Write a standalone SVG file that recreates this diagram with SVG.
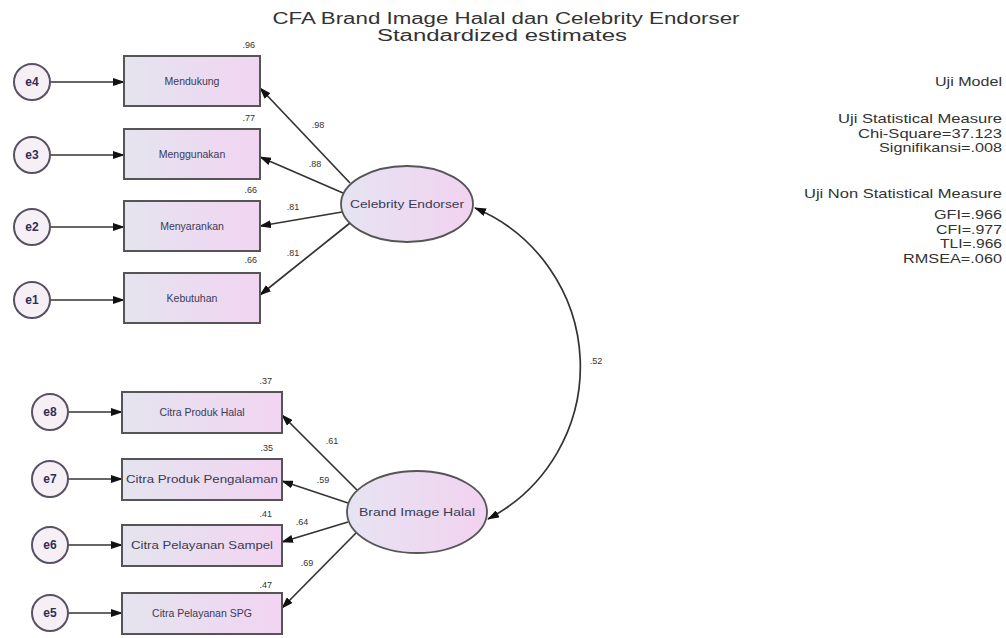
<svg xmlns="http://www.w3.org/2000/svg" width="1006" height="638" viewBox="0 0 1006 638">
<defs>
<linearGradient id="gb" x1="0" y1="0" x2="1" y2="0">
<stop offset="0" stop-color="#e4e4ee"/><stop offset="1" stop-color="#f2d4f2"/>
</linearGradient>
<linearGradient id="ge" x1="0" y1="0" x2="1" y2="0">
<stop offset="0" stop-color="#e6e4f2"/><stop offset="1" stop-color="#f2d2f0"/>
</linearGradient>
<marker id="ah" markerWidth="12" markerHeight="8" refX="11" refY="4" orient="auto-start-reverse" markerUnits="userSpaceOnUse">
<path d="M0,0 L12,4 L0,8 Z" fill="#111"/>
</marker>
<style>
text{font-family:"Liberation Sans",Arial,sans-serif;}
.box{fill:url(#gb);stroke:#555;stroke-width:2;}
.lat{fill:url(#ge);stroke:#555;stroke-width:1.8;}
.err{fill:#f6f0f6;stroke:#5a5064;stroke-width:2;}
.lbl{font-size:10.5px;fill:#3a3a55;text-anchor:middle;}
.elbl{font-size:12px;font-weight:bold;fill:#2e2e55;text-anchor:middle;}
.num{font-size:9px;fill:#333;text-anchor:end;}
.est{font-size:9px;fill:#333;text-anchor:middle;}
.con{stroke:#333;stroke-width:1.7;fill:none;marker-end:url(#ah);}
.info{font-size:13px;fill:#333;text-anchor:end;}
.title{font-size:16px;fill:#333;text-anchor:middle;}
</style>
</defs>
<rect width="1006" height="638" fill="#fff"/>

<g id="title">
<text class="title" x="506" y="24" textLength="467" lengthAdjust="spacingAndGlyphs">CFA Brand Image Halal dan Celebrity Endorser</text>
<text class="title" x="502" y="41" textLength="250" lengthAdjust="spacingAndGlyphs">Standardized estimates</text>
</g>

<g id="fit-stats">
<text class="info" x="1002" y="86" textLength="67" lengthAdjust="spacingAndGlyphs">Uji Model</text>
<text class="info" x="1002" y="123" textLength="164" lengthAdjust="spacingAndGlyphs">Uji Statistical Measure</text>
<text class="info" x="1002" y="138" textLength="144" lengthAdjust="spacingAndGlyphs">Chi-Square=37.123</text>
<text class="info" x="1002" y="152" textLength="123" lengthAdjust="spacingAndGlyphs">Signifikansi=.008</text>
<text class="info" x="1002" y="198" textLength="198" lengthAdjust="spacingAndGlyphs">Uji Non Statistical Measure</text>
<text class="info" x="1002" y="219" textLength="68" lengthAdjust="spacingAndGlyphs">GFI=.966</text>
<text class="info" x="1002" y="234" textLength="66" lengthAdjust="spacingAndGlyphs">CFI=.977</text>
<text class="info" x="1002" y="248" textLength="62" lengthAdjust="spacingAndGlyphs">TLI=.966</text>
<text class="info" x="1002" y="263" textLength="99" lengthAdjust="spacingAndGlyphs">RMSEA=.060</text>
</g>

<g id="connectors">
<line class="con" x1="50" y1="82" x2="124" y2="82"/>
<line class="con" x1="50" y1="155" x2="124" y2="155"/>
<line class="con" x1="50" y1="227" x2="124" y2="227"/>
<line class="con" x1="50" y1="300" x2="124" y2="300"/>
<line class="con" x1="68" y1="412" x2="122" y2="412"/>
<line class="con" x1="68" y1="479" x2="122" y2="479"/>
<line class="con" x1="68" y1="545" x2="122" y2="545"/>
<line class="con" x1="68" y1="613" x2="122" y2="613"/>
<line class="con" x1="350" y1="183" x2="260" y2="88"/>
<line class="con" x1="343" y1="193" x2="260" y2="157"/>
<line class="con" x1="342" y1="212" x2="260" y2="226"/>
<line class="con" x1="350" y1="223" x2="260" y2="295"/>
<line class="con" x1="357" y1="490" x2="282" y2="415"/>
<line class="con" x1="348" y1="503" x2="282" y2="481"/>
<line class="con" x1="348" y1="522" x2="282" y2="542"/>
<line class="con" x1="356" y1="533" x2="282" y2="608"/>
<path class="con" d="M475,208 A172,172 0 0 1 488,519" style="marker-start:url(#ah)"/>
<text class="est" x="318" y="128">.98</text>
<text class="est" x="315" y="167">.88</text>
<text class="est" x="293" y="210">.81</text>
<text class="est" x="293" y="256">.81</text>
<text class="est" x="332" y="444">.61</text>
<text class="est" x="323" y="483">.59</text>
<text class="est" x="302" y="525">.64</text>
<text class="est" x="307" y="566">.69</text>
<text class="est" x="596" y="364">.52</text>
</g>

<g id="e4"><circle class="err" cx="32" cy="82" r="18"/><text class="elbl" x="32" y="86">e4</text></g>
<g id="e3"><circle class="err" cx="32" cy="155" r="18"/><text class="elbl" x="32" y="159">e3</text></g>
<g id="e2"><circle class="err" cx="32" cy="227" r="18"/><text class="elbl" x="32" y="231">e2</text></g>
<g id="e1"><circle class="err" cx="32" cy="300" r="18"/><text class="elbl" x="32" y="304">e1</text></g>
<g id="e8"><circle class="err" cx="50" cy="412" r="18"/><text class="elbl" x="50" y="416">e8</text></g>
<g id="e7"><circle class="err" cx="50" cy="479" r="18"/><text class="elbl" x="50" y="483">e7</text></g>
<g id="e6"><circle class="err" cx="50" cy="545" r="18"/><text class="elbl" x="50" y="549">e6</text></g>
<g id="e5"><circle class="err" cx="50" cy="613" r="18"/><text class="elbl" x="50" y="617">e5</text></g>

<g id="mendukung"><rect class="box" x="124" y="56" width="136" height="50"/><text class="lbl" x="192" y="85">Mendukung</text><text class="num" x="255" y="48">.96</text></g>
<g id="menggunakan"><rect class="box" x="124" y="129" width="136" height="50"/><text class="lbl" x="192" y="158">Menggunakan</text><text class="num" x="255" y="121">.77</text></g>
<g id="menyarankan"><rect class="box" x="124" y="201" width="136" height="50"/><text class="lbl" x="192" y="230">Menyarankan</text><text class="num" x="257" y="193">.66</text></g>
<g id="kebutuhan"><rect class="box" x="124" y="273" width="136" height="50"/><text class="lbl" x="192" y="302">Kebutuhan</text><text class="num" x="257" y="263">.66</text></g>

<g id="citra-produk-halal"><rect class="box" x="122" y="392" width="160" height="41"/><text class="lbl" x="202" y="416">Citra Produk Halal</text><text class="num" x="272" y="384">.37</text></g>
<g id="citra-produk-pengalaman"><rect class="box" x="122" y="459" width="160" height="41"/><text class="lbl" x="202" y="483" textLength="152" lengthAdjust="spacingAndGlyphs">Citra Produk Pengalaman</text><text class="num" x="273" y="451">.35</text></g>
<g id="citra-pelayanan-sampel"><rect class="box" x="122" y="525" width="160" height="41"/><text class="lbl" x="202" y="549" textLength="142" lengthAdjust="spacingAndGlyphs">Citra Pelayanan Sampel</text><text class="num" x="272" y="517">.41</text></g>
<g id="citra-pelayanan-spg"><rect class="box" x="122" y="593" width="160" height="41"/><text class="lbl" x="202" y="617">Citra Pelayanan SPG</text><text class="num" x="272" y="588">.47</text></g>

<g id="celebrity-endorser"><ellipse class="lat" cx="407" cy="204" rx="66" ry="38"/><text class="lbl" x="407" y="208" textLength="114" lengthAdjust="spacingAndGlyphs">Celebrity Endorser</text></g>
<g id="brand-image-halal"><ellipse class="lat" cx="417" cy="512" rx="70" ry="41"/><text class="lbl" x="417" y="516" textLength="116" lengthAdjust="spacingAndGlyphs">Brand Image Halal</text></g>
</svg>
